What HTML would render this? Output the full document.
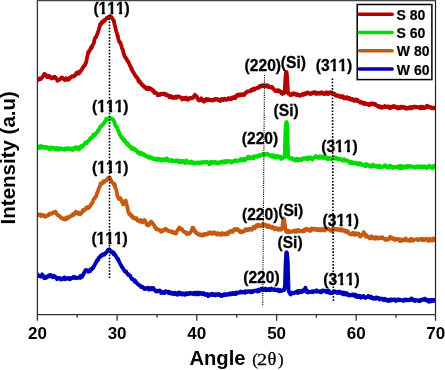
<!DOCTYPE html>
<html><head><meta charset="utf-8"><style>
html,body{margin:0;padding:0;background:#fff;width:445px;height:370px;overflow:hidden}
svg{display:block;will-change:transform}
.b{font-family:"Liberation Sans",sans-serif;font-weight:bold;fill:#000}
.s{font-family:"Liberation Serif",serif;fill:#000}
</style></head><body>
<svg width="445" height="370" viewBox="0 0 445 370">
<defs><clipPath id="cp"><rect x="37.6" y="0" width="397.9" height="314"/></clipPath><mask id="m1" maskUnits="userSpaceOnUse" x="0" y="0" width="445" height="370"><rect width="445" height="370" fill="#fff"/><g fill="#000"><rect x="99.04" y="11.51" width="2.73" height="4.09"/><rect x="104.82" y="11.51" width="2.44" height="4.09"/><rect x="107.72" y="11.51" width="2.73" height="4.09"/><rect x="113.49" y="11.51" width="2.44" height="4.09"/><rect x="116.39" y="11.51" width="2.73" height="4.09"/><rect x="122.16" y="11.51" width="2.44" height="4.09"/><rect x="330.12" y="68.11" width="2.73" height="4.09"/><rect x="335.89" y="68.11" width="2.44" height="4.09"/><rect x="338.79" y="68.11" width="2.73" height="4.09"/><rect x="344.56" y="68.11" width="2.44" height="4.09"/><rect x="97.74" y="109.51" width="2.73" height="4.09"/><rect x="103.52" y="109.51" width="2.44" height="4.09"/><rect x="106.42" y="109.51" width="2.73" height="4.09"/><rect x="112.19" y="109.51" width="2.44" height="4.09"/><rect x="115.09" y="109.51" width="2.73" height="4.09"/><rect x="120.86" y="109.51" width="2.44" height="4.09"/><rect x="335.52" y="149.01" width="2.73" height="4.09"/><rect x="341.29" y="149.01" width="2.44" height="4.09"/><rect x="344.19" y="149.01" width="2.73" height="4.09"/><rect x="349.96" y="149.01" width="2.44" height="4.09"/><rect x="97.74" y="170.81" width="2.73" height="4.09"/><rect x="103.52" y="170.81" width="2.44" height="4.09"/><rect x="106.42" y="170.81" width="2.73" height="4.09"/><rect x="112.19" y="170.81" width="2.44" height="4.09"/><rect x="115.09" y="170.81" width="2.73" height="4.09"/><rect x="120.86" y="170.81" width="2.44" height="4.09"/><rect x="336.92" y="223.11" width="2.73" height="4.09"/><rect x="342.69" y="223.11" width="2.44" height="4.09"/><rect x="345.59" y="223.11" width="2.73" height="4.09"/><rect x="351.36" y="223.11" width="2.44" height="4.09"/><rect x="97.04" y="240.91" width="2.73" height="4.09"/><rect x="102.82" y="240.91" width="2.44" height="4.09"/><rect x="105.72" y="240.91" width="2.73" height="4.09"/><rect x="111.49" y="240.91" width="2.44" height="4.09"/><rect x="114.39" y="240.91" width="2.73" height="4.09"/><rect x="120.16" y="240.91" width="2.44" height="4.09"/><rect x="337.52" y="282.71" width="2.73" height="4.09"/><rect x="343.29" y="282.71" width="2.44" height="4.09"/><rect x="346.19" y="282.71" width="2.73" height="4.09"/><rect x="351.96" y="282.71" width="2.44" height="4.09"/></g></mask></defs>
<g fill="none" stroke-width="3.8" stroke-linejoin="round" stroke-linecap="round" clip-path="url(#cp)">
<path d="M37.8,80.2 38.2,80.1 38.6,79.4 39.0,78.9 39.4,78.8 39.8,78.3 40.2,78.7 40.6,79.1 41.0,78.1 41.4,78.0 41.8,78.0 42.2,77.4 42.6,77.0 43.0,75.9 43.4,75.8 43.8,75.4 44.2,73.9 44.6,74.8 45.0,74.2 45.4,74.9 45.8,74.9 46.2,75.9 46.6,75.9 47.0,77.1 47.4,77.0 47.8,77.0 48.2,75.8 48.6,76.5 49.0,76.8 49.4,77.2 49.8,76.3 50.2,77.2 50.6,77.1 51.0,77.3 51.4,78.3 51.8,77.5 52.2,77.5 52.6,78.3 53.0,77.4 53.4,77.7 53.8,77.5 54.2,77.5 54.6,76.7 55.0,77.4 55.4,78.2 55.8,77.6 56.2,78.8 56.6,79.1 57.0,79.3 57.4,80.9 57.8,80.6 58.2,80.2 58.6,79.9 59.0,80.0 59.4,79.7 59.8,79.7 60.2,78.9 60.6,78.8 61.0,78.7 61.4,77.7 61.8,78.0 62.2,77.5 62.6,78.0 63.0,78.1 63.4,78.7 63.8,79.1 64.2,79.5 64.6,80.0 65.0,79.0 65.4,79.0 65.8,79.3 66.2,78.1 66.6,79.1 67.0,79.5 67.4,79.9 67.8,79.9 68.2,79.4 68.6,79.2 69.0,78.9 69.4,79.2 69.8,77.7 70.2,78.0 70.6,77.6 71.0,76.9 71.4,76.8 71.8,76.3 72.2,76.6 72.6,76.4 73.0,76.6 73.4,76.6 73.8,75.9 74.2,76.0 74.6,75.2 75.0,75.6 75.4,74.8 75.8,74.6 76.2,73.2 76.6,74.0 77.0,72.8 77.4,72.3 77.8,73.1 78.2,72.8 78.6,72.8 79.0,73.6 79.4,72.0 79.8,71.8 80.2,71.9 80.6,71.3 81.0,70.1 81.4,69.9 81.8,69.7 82.2,69.0 82.6,67.7 83.0,67.6 83.4,67.0 83.8,66.0 84.2,65.9 84.6,64.9 85.0,65.2 85.4,64.4 85.8,63.4 86.2,61.7 86.6,60.3 87.0,57.7 87.4,56.0 87.8,54.6 88.2,51.9 88.6,52.8 89.0,50.9 89.4,51.3 89.8,49.9 90.2,49.9 90.6,48.9 91.0,47.5 91.4,48.2 91.8,47.5 92.2,46.0 92.6,45.3 93.0,44.6 93.4,43.6 93.8,43.4 94.2,40.8 94.6,39.4 95.0,38.3 95.4,37.8 95.8,36.9 96.2,37.1 96.6,35.4 97.0,35.0 97.4,33.9 97.8,32.5 98.2,31.4 98.6,30.1 99.0,29.1 99.4,27.4 99.8,25.9 100.2,24.0 100.6,23.7 101.0,24.2 101.4,22.9 101.8,22.1 102.2,22.3 102.6,22.6 103.0,21.3 103.4,21.8 103.8,21.3 104.2,20.2 104.6,21.0 105.0,20.1 105.4,19.9 105.8,19.0 106.2,18.9 106.6,18.0 107.0,18.1 107.4,17.7 107.8,17.4 108.2,18.1 108.6,16.8 109.0,16.8 109.4,16.7 109.8,16.2 110.2,16.2 110.6,17.0 111.0,16.7 111.4,17.0 111.8,17.4 112.2,18.3 112.6,19.2 113.0,19.6 113.4,19.9 113.8,20.7 114.2,23.2 114.6,24.6 115.0,25.6 115.4,27.6 115.8,29.4 116.2,30.9 116.6,32.5 117.0,33.3 117.4,35.6 117.8,35.7 118.2,38.1 118.6,39.8 119.0,40.9 119.4,42.1 119.8,42.6 120.2,42.3 120.6,43.0 121.0,45.2 121.4,45.4 121.8,47.4 122.2,49.0 122.6,49.2 123.0,50.2 123.4,52.6 123.8,54.0 124.2,55.0 124.6,56.3 125.0,56.7 125.4,57.2 125.8,58.3 126.2,58.6 126.6,58.8 127.0,60.3 127.4,60.9 127.8,61.6 128.2,61.4 128.6,62.6 129.0,63.4 129.4,64.3 129.8,65.6 130.2,65.6 130.6,66.8 131.0,67.8 131.4,69.4 131.8,68.6 132.2,70.6 132.6,71.2 133.0,72.1 133.4,72.0 133.8,73.0 134.2,74.2 134.6,74.3 135.0,75.1 135.4,75.4 135.8,76.5 136.2,77.0 136.6,76.8 137.0,78.0 137.4,78.2 137.8,78.3 138.2,80.2 138.6,81.4 139.0,81.1 139.4,81.0 139.8,81.5 140.2,82.9 140.6,82.8 141.0,83.1 141.4,83.6 141.8,84.5 142.2,85.2 142.6,85.5 143.0,85.7 143.4,85.4 143.8,86.5 144.2,86.7 144.6,87.5 145.0,86.7 145.4,87.9 145.8,88.3 146.2,87.6 146.6,89.1 147.0,88.8 147.4,88.5 147.8,89.1 148.2,89.1 148.6,87.6 149.0,89.0 149.4,88.9 149.8,89.1 150.2,88.3 150.6,88.8 151.0,88.6 151.4,89.2 151.8,89.3 152.2,89.6 152.6,90.7 153.0,90.1 153.4,90.7 153.8,90.7 154.2,92.8 154.6,92.6 155.0,92.7 155.4,92.6 155.8,92.9 156.2,93.0 156.6,93.2 157.0,93.7 157.4,94.3 157.8,95.3 158.2,95.0 158.6,94.5 159.0,94.4 159.4,94.2 159.8,95.0 160.2,94.3 160.6,94.2 161.0,93.8 161.4,93.5 161.8,93.8 162.2,94.2 162.6,93.9 163.0,93.9 163.4,93.8 163.8,94.0 164.2,93.5 164.6,94.3 165.0,94.2 165.4,95.0 165.8,94.0 166.2,94.5 166.6,95.4 167.0,94.7 167.4,94.9 167.8,95.3 168.2,95.1 168.6,95.4 169.0,96.6 169.4,97.4 169.8,96.2 170.2,96.1 170.6,95.9 171.0,97.2 171.4,96.5 171.8,96.5 172.2,97.7 172.6,96.7 173.0,98.1 173.4,98.0 173.8,97.1 174.2,97.2 174.6,97.9 175.0,96.9 175.4,97.0 175.8,96.4 176.2,97.1 176.6,97.9 177.0,97.5 177.4,96.4 177.8,96.3 178.2,96.4 178.6,96.7 179.0,96.6 179.4,96.6 179.8,96.9 180.2,97.0 180.6,97.7 181.0,97.7 181.4,97.9 181.8,98.6 182.2,99.5 182.6,98.9 183.0,99.0 183.4,97.9 183.8,99.0 184.2,97.9 184.6,98.1 185.0,99.2 185.4,98.9 185.8,98.1 186.2,97.6 186.6,98.4 187.0,98.4 187.4,99.0 187.8,99.8 188.2,98.8 188.6,98.5 189.0,98.3 189.4,98.6 189.8,98.3 190.2,97.8 190.6,98.4 191.0,98.0 191.4,98.4 191.8,98.4 192.2,98.0 192.6,97.4 193.0,97.7 193.4,97.1 193.8,96.4 194.2,96.3 194.6,95.2 195.0,94.8 195.4,95.4 195.8,95.6 196.2,96.2 196.6,97.3 197.0,96.6 197.4,97.6 197.8,98.8 198.2,100.0 198.6,99.7 199.0,100.5 199.4,100.3 199.8,99.8 200.2,99.4 200.6,100.0 201.0,99.4 201.4,98.3 201.8,100.0 202.2,99.9 202.6,100.8 203.0,100.3 203.4,100.5 203.8,100.1 204.2,101.7 204.6,100.6 205.0,100.9 205.4,99.7 205.8,99.9 206.2,98.9 206.6,99.8 207.0,100.3 207.4,99.2 207.8,100.3 208.2,99.8 208.6,99.2 209.0,99.7 209.4,99.8 209.8,100.2 210.2,99.8 210.6,99.9 211.0,100.3 211.4,100.3 211.8,100.0 212.2,100.2 212.6,100.6 213.0,99.6 213.4,100.1 213.8,99.6 214.2,99.3 214.6,99.8 215.0,99.1 215.4,99.8 215.8,98.9 216.2,99.5 216.6,99.3 217.0,99.0 217.4,99.7 217.8,99.5 218.2,100.2 218.6,100.1 219.0,99.5 219.4,100.4 219.8,100.3 220.2,101.1 220.6,100.0 221.0,99.6 221.4,99.1 221.8,100.4 222.2,99.2 222.6,99.1 223.0,99.5 223.4,100.1 223.8,99.1 224.2,98.7 224.6,98.7 225.0,98.6 225.4,99.4 225.8,98.9 226.2,99.2 226.6,99.9 227.0,99.3 227.4,99.5 227.8,98.6 228.2,98.4 228.6,97.9 229.0,99.3 229.4,98.3 229.8,98.3 230.2,98.4 230.6,98.6 231.0,98.2 231.4,99.2 231.8,97.8 232.2,97.3 232.6,97.4 233.0,97.2 233.4,98.0 233.8,98.1 234.2,97.4 234.6,97.1 235.0,97.5 235.4,98.2 235.8,95.9 236.2,97.1 236.6,95.9 237.0,96.2 237.4,94.9 237.8,95.2 238.2,94.5 238.6,94.6 239.0,95.5 239.4,95.5 239.8,94.9 240.2,94.9 240.6,94.3 241.0,95.1 241.4,95.1 241.8,95.2 242.2,95.2 242.6,94.3 243.0,94.5 243.4,94.5 243.8,94.8 244.2,95.1 244.6,94.1 245.0,93.1 245.4,93.6 245.8,92.8 246.2,92.3 246.6,92.3 247.0,91.5 247.4,91.9 247.8,91.6 248.2,91.3 248.6,91.4 249.0,91.2 249.4,91.2 249.8,91.3 250.2,90.9 250.6,91.1 251.0,91.1 251.4,89.8 251.8,90.2 252.2,89.7 252.6,89.6 253.0,89.7 253.4,88.7 253.8,89.4 254.2,89.8 254.6,89.2 255.0,88.5 255.4,88.9 255.8,88.3 256.2,88.3 256.6,88.1 257.0,87.9 257.4,87.6 257.8,88.0 258.2,87.7 258.6,87.2 259.0,87.1 259.4,87.4 259.8,85.9 260.2,86.5 260.6,86.2 261.0,85.9 261.4,86.2 261.8,85.3 262.2,85.2 262.6,86.1 263.0,85.9 263.4,86.0 263.8,85.2 264.2,85.6 264.6,86.1 265.0,86.5 265.4,86.2 265.8,85.4 266.2,86.4 266.6,86.0 267.0,85.1 267.4,86.8 267.8,85.8 268.2,85.7 268.6,86.0 269.0,87.1 269.4,86.6 269.8,87.0 270.2,87.4 270.6,87.6 271.0,87.0 271.4,87.0 271.8,86.8 272.2,87.1 272.6,88.0 273.0,88.5 273.4,88.7 273.8,89.6 274.2,89.5 274.6,90.1 275.0,90.7 275.4,90.9 275.8,91.2 276.2,90.9 276.6,90.8 277.0,91.0 277.4,90.2 277.8,90.2 278.2,91.3 278.6,91.1 279.0,91.4 279.4,90.6 279.8,91.5 280.2,92.0 280.6,91.9 281.0,91.7 281.4,92.7 281.8,93.7 282.2,93.9 282.6,93.3 283.0,93.2 283.4,93.6 283.8,91.6 284.2,92.7 284.6,92.9 285.0,85.6 285.4,78.6 285.8,74.0 286.2,72.2 286.6,72.1 287.0,75.8 287.4,81.0 287.8,89.4 288.2,92.6 288.6,93.8 289.0,93.7 289.4,94.1 289.8,94.3 290.2,95.1 290.6,94.4 291.0,95.1 291.4,93.9 291.8,94.0 292.2,94.1 292.6,94.6 293.0,94.4 293.4,93.2 293.8,93.8 294.2,94.4 294.6,94.2 295.0,93.6 295.4,94.6 295.8,94.5 296.2,94.9 296.6,94.3 297.0,95.0 297.4,94.4 297.8,95.2 298.2,94.5 298.6,94.7 299.0,95.2 299.4,94.9 299.8,95.8 300.2,95.7 300.6,95.2 301.0,95.2 301.4,94.9 301.8,95.1 302.2,94.3 302.6,93.7 303.0,94.5 303.4,94.8 303.8,94.7 304.2,93.8 304.6,93.8 305.0,94.4 305.4,93.7 305.8,93.0 306.2,93.5 306.6,93.7 307.0,93.0 307.4,92.5 307.8,92.4 308.2,93.4 308.6,93.1 309.0,93.2 309.4,93.6 309.8,93.9 310.2,93.5 310.6,94.1 311.0,93.3 311.4,93.1 311.8,92.8 312.2,93.4 312.6,92.7 313.0,92.4 313.4,92.5 313.8,92.4 314.2,93.2 314.6,92.1 315.0,92.4 315.4,92.6 315.8,93.9 316.2,92.9 316.6,92.6 317.0,92.9 317.4,93.8 317.8,92.9 318.2,92.8 318.6,93.5 319.0,93.2 319.4,93.5 319.8,92.6 320.2,93.8 320.6,93.5 321.0,93.0 321.4,93.2 321.8,92.3 322.2,93.4 322.6,93.5 323.0,93.6 323.4,94.0 323.8,93.8 324.2,93.1 324.6,94.1 325.0,93.5 325.4,93.5 325.8,93.2 326.2,93.1 326.6,92.2 327.0,93.7 327.4,93.2 327.8,93.7 328.2,94.1 328.6,93.1 329.0,92.4 329.4,92.8 329.8,92.8 330.2,93.1 330.6,93.0 331.0,92.2 331.4,93.5 331.8,92.9 332.2,93.4 332.6,93.5 333.0,93.4 333.4,94.1 333.8,93.8 334.2,93.9 334.6,93.8 335.0,94.8 335.4,95.6 335.8,95.7 336.2,95.3 336.6,95.5 337.0,95.3 337.4,96.0 337.8,95.3 338.2,95.7 338.6,96.0 339.0,96.5 339.4,96.4 339.8,96.2 340.2,96.0 340.6,96.4 341.0,97.3 341.4,96.3 341.8,96.1 342.2,96.8 342.6,97.1 343.0,96.3 343.4,97.1 343.8,98.2 344.2,97.9 344.6,97.9 345.0,98.3 345.4,97.6 345.8,98.1 346.2,97.7 346.6,98.6 347.0,97.1 347.4,97.8 347.8,97.8 348.2,98.2 348.6,98.4 349.0,99.1 349.4,97.9 349.8,99.2 350.2,98.8 350.6,98.9 351.0,99.8 351.4,99.3 351.8,99.1 352.2,99.7 352.6,99.1 353.0,100.0 353.4,100.4 353.8,100.1 354.2,100.9 354.6,99.9 355.0,99.5 355.4,100.0 355.8,99.7 356.2,99.7 356.6,100.8 357.0,100.4 357.4,99.7 357.8,101.2 358.2,101.0 358.6,101.4 359.0,101.6 359.4,102.0 359.8,101.5 360.2,102.8 360.6,102.2 361.0,102.5 361.4,102.8 361.8,102.1 362.2,102.8 362.6,103.2 363.0,103.1 363.4,102.8 363.8,104.0 364.2,103.3 364.6,102.9 365.0,102.9 365.4,103.5 365.8,104.1 366.2,103.8 366.6,104.2 367.0,104.1 367.4,104.3 367.8,103.9 368.2,104.5 368.6,104.6 369.0,105.2 369.4,103.9 369.8,104.1 370.2,104.0 370.6,104.7 371.0,103.4 371.4,103.8 371.8,104.2 372.2,103.7 372.6,103.9 373.0,104.1 373.4,103.5 373.8,104.1 374.2,104.6 374.6,104.8 375.0,104.6 375.4,104.0 375.8,104.7 376.2,105.2 376.6,105.4 377.0,105.4 377.4,105.6 377.8,106.5 378.2,105.8 378.6,105.9 379.0,106.2 379.4,107.2 379.8,106.6 380.2,106.9 380.6,106.4 381.0,107.3 381.4,106.6 381.8,106.8 382.2,107.9 382.6,107.2 383.0,106.6 383.4,106.6 383.8,107.0 384.2,107.3 384.6,106.7 385.0,106.1 385.4,106.7 385.8,107.0 386.2,107.1 386.6,107.2 387.0,106.7 387.4,106.8 387.8,106.3 388.2,107.3 388.6,107.7 389.0,107.0 389.4,107.0 389.8,107.2 390.2,108.3 390.6,106.7 391.0,107.1 391.4,107.3 391.8,107.5 392.2,106.9 392.6,107.1 393.0,106.3 393.4,106.7 393.8,106.5 394.2,106.0 394.6,106.5 395.0,107.1 395.4,106.4 395.8,107.2 396.2,107.8 396.6,106.9 397.0,107.6 397.4,107.3 397.8,108.0 398.2,108.5 398.6,108.3 399.0,107.2 399.4,107.8 399.8,107.4 400.2,107.4 400.6,108.1 401.0,106.7 401.4,107.7 401.8,107.1 402.2,107.6 402.6,107.1 403.0,106.7 403.4,107.4 403.8,107.9 404.2,107.8 404.6,108.0 405.0,108.0 405.4,107.3 405.8,108.7 406.2,108.4 406.6,108.0 407.0,108.1 407.4,108.5 407.8,107.8 408.2,107.6 408.6,107.9 409.0,108.3 409.4,107.4 409.8,108.3 410.2,107.5 410.6,107.1 411.0,108.5 411.4,107.6 411.8,107.1 412.2,107.1 412.6,107.7 413.0,107.8 413.4,106.9 413.8,107.0 414.2,107.2 414.6,106.6 415.0,107.3 415.4,107.4 415.8,106.8 416.2,106.9 416.6,107.2 417.0,107.3 417.4,107.0 417.8,107.0 418.2,107.3 418.6,107.3 419.0,107.6 419.4,107.8 419.8,107.5 420.2,108.4 420.6,106.8 421.0,107.7 421.4,107.2 421.8,108.1 422.2,108.2 422.6,106.7 423.0,107.0 423.4,107.9 423.8,108.1 424.2,108.2 424.6,107.8 425.0,107.7 425.4,107.5 425.8,107.2 426.2,107.6 426.6,105.9 427.0,106.8 427.4,106.0 427.8,107.2 428.2,106.6 428.6,106.4 429.0,107.3 429.4,106.9 429.8,107.0 430.2,106.9 430.6,107.3 431.0,107.9 431.4,108.3 431.8,107.5 432.2,107.9 432.6,107.6 433.0,107.6 433.4,108.3 433.8,108.5 434.2,107.7 434.6,108.0 435.0,108.0" stroke="#b40000"/>
<path d="M37.8,146.7 38.2,147.0 38.6,146.6 39.0,147.0 39.4,147.2 39.8,148.2 40.2,146.9 40.6,145.9 41.0,146.5 41.4,146.8 41.8,146.3 42.2,146.5 42.6,147.2 43.0,147.6 43.4,147.2 43.8,147.0 44.2,147.9 44.6,147.7 45.0,147.6 45.4,147.1 45.8,147.4 46.2,148.2 46.6,147.1 47.0,147.7 47.4,148.1 47.8,147.9 48.2,148.0 48.6,147.7 49.0,149.0 49.4,149.2 49.8,148.6 50.2,147.4 50.6,147.8 51.0,148.5 51.4,148.7 51.8,148.1 52.2,148.3 52.6,147.6 53.0,148.3 53.4,147.9 53.8,148.5 54.2,148.0 54.6,149.2 55.0,149.4 55.4,148.5 55.8,148.5 56.2,149.5 56.6,149.0 57.0,147.9 57.4,149.4 57.8,149.2 58.2,148.9 58.6,149.8 59.0,149.1 59.4,148.6 59.8,148.9 60.2,148.3 60.6,148.4 61.0,148.6 61.4,148.5 61.8,148.5 62.2,149.3 62.6,149.2 63.0,149.1 63.4,149.1 63.8,149.3 64.2,149.5 64.6,148.9 65.0,149.8 65.4,148.4 65.8,149.1 66.2,148.2 66.6,148.7 67.0,149.1 67.4,149.3 67.8,148.2 68.2,148.8 68.6,148.2 69.0,148.7 69.4,148.5 69.8,149.0 70.2,148.4 70.6,149.5 71.0,149.3 71.4,149.1 71.8,148.6 72.2,148.4 72.6,150.0 73.0,148.6 73.4,149.6 73.8,148.9 74.2,148.4 74.6,147.8 75.0,148.6 75.4,148.5 75.8,147.1 76.2,147.5 76.6,148.3 77.0,147.9 77.4,149.0 77.8,147.8 78.2,148.8 78.6,148.1 79.0,149.6 79.4,148.0 79.8,146.9 80.2,147.3 80.6,147.1 81.0,147.6 81.4,145.9 81.8,146.0 82.2,146.1 82.6,146.8 83.0,145.5 83.4,145.7 83.8,144.7 84.2,144.3 84.6,143.8 85.0,143.3 85.4,142.6 85.8,143.7 86.2,142.2 86.6,143.2 87.0,142.8 87.4,142.0 87.8,141.2 88.2,140.8 88.6,140.8 89.0,140.6 89.4,139.9 89.8,139.6 90.2,138.5 90.6,138.7 91.0,137.7 91.4,138.1 91.8,137.6 92.2,137.0 92.6,137.3 93.0,136.5 93.4,134.5 93.8,135.5 94.2,134.7 94.6,135.1 95.0,135.3 95.4,133.6 95.8,133.5 96.2,133.2 96.6,132.8 97.0,132.7 97.4,132.3 97.8,130.7 98.2,131.5 98.6,129.9 99.0,129.5 99.4,129.1 99.8,128.0 100.2,126.9 100.6,126.5 101.0,126.0 101.4,125.9 101.8,126.1 102.2,124.6 102.6,124.8 103.0,124.3 103.4,123.9 103.8,123.2 104.2,123.1 104.6,122.1 105.0,121.5 105.4,120.8 105.8,120.9 106.2,118.6 106.6,119.8 107.0,118.8 107.4,118.8 107.8,118.8 108.2,118.6 108.6,119.0 109.0,118.7 109.4,118.9 109.8,117.7 110.2,119.0 110.6,118.6 111.0,118.3 111.4,118.6 111.8,118.8 112.2,118.7 112.6,119.3 113.0,119.5 113.4,119.9 113.8,120.4 114.2,121.9 114.6,122.8 115.0,124.4 115.4,126.0 115.8,126.2 116.2,126.5 116.6,126.6 117.0,127.4 117.4,128.0 117.8,130.0 118.2,130.3 118.6,131.8 119.0,132.3 119.4,133.6 119.8,134.9 120.2,134.9 120.6,135.5 121.0,136.1 121.4,137.9 121.8,137.8 122.2,138.0 122.6,138.1 123.0,138.2 123.4,139.7 123.8,141.0 124.2,139.4 124.6,141.0 125.0,141.5 125.4,141.2 125.8,142.4 126.2,142.7 126.6,143.0 127.0,144.6 127.4,143.0 127.8,144.3 128.2,144.9 128.6,144.7 129.0,145.6 129.4,146.4 129.8,146.4 130.2,147.0 130.6,147.6 131.0,146.7 131.4,148.6 131.8,149.1 132.2,148.7 132.6,148.9 133.0,148.1 133.4,148.7 133.8,148.3 134.2,148.7 134.6,150.0 135.0,149.5 135.4,150.1 135.8,149.8 136.2,150.8 136.6,151.3 137.0,151.1 137.4,151.3 137.8,152.8 138.2,152.0 138.6,152.1 139.0,152.3 139.4,153.4 139.8,154.0 140.2,153.3 140.6,152.6 141.0,152.7 141.4,153.6 141.8,153.0 142.2,154.4 142.6,154.6 143.0,153.9 143.4,154.5 143.8,154.9 144.2,155.5 144.6,154.5 145.0,155.8 145.4,155.4 145.8,155.9 146.2,156.6 146.6,156.5 147.0,156.3 147.4,156.2 147.8,156.3 148.2,157.4 148.6,157.7 149.0,157.2 149.4,157.6 149.8,156.7 150.2,157.4 150.6,157.8 151.0,157.4 151.4,157.7 151.8,158.5 152.2,158.5 152.6,158.1 153.0,158.6 153.4,158.5 153.8,159.3 154.2,159.1 154.6,158.6 155.0,159.0 155.4,159.1 155.8,159.3 156.2,159.3 156.6,160.0 157.0,159.7 157.4,160.0 157.8,158.4 158.2,159.1 158.6,158.8 159.0,159.2 159.4,159.1 159.8,159.2 160.2,159.9 160.6,159.8 161.0,159.2 161.4,160.8 161.8,160.5 162.2,159.7 162.6,160.3 163.0,159.5 163.4,160.3 163.8,159.6 164.2,159.2 164.6,159.4 165.0,159.1 165.4,159.6 165.8,160.1 166.2,160.1 166.6,159.9 167.0,158.4 167.4,160.0 167.8,159.2 168.2,160.4 168.6,160.8 169.0,160.3 169.4,160.2 169.8,160.3 170.2,160.4 170.6,160.3 171.0,160.1 171.4,159.9 171.8,161.0 172.2,160.5 172.6,160.9 173.0,160.4 173.4,160.5 173.8,160.6 174.2,160.8 174.6,161.0 175.0,160.9 175.4,160.4 175.8,160.4 176.2,161.4 176.6,160.5 177.0,160.5 177.4,161.2 177.8,161.1 178.2,161.1 178.6,160.5 179.0,162.2 179.4,161.3 179.8,161.5 180.2,161.5 180.6,161.0 181.0,160.9 181.4,162.3 181.8,161.9 182.2,161.6 182.6,161.3 183.0,160.9 183.4,161.4 183.8,161.1 184.2,162.2 184.6,162.4 185.0,163.1 185.4,162.3 185.8,161.8 186.2,161.5 186.6,160.4 187.0,161.4 187.4,161.8 187.8,162.5 188.2,162.5 188.6,162.5 189.0,162.6 189.4,162.7 189.8,163.0 190.2,161.9 190.6,162.0 191.0,161.5 191.4,162.7 191.8,162.7 192.2,163.0 192.6,162.2 193.0,162.8 193.4,162.7 193.8,163.1 194.2,163.2 194.6,163.3 195.0,162.6 195.4,163.3 195.8,162.8 196.2,162.8 196.6,162.6 197.0,162.5 197.4,163.1 197.8,162.8 198.2,163.0 198.6,163.0 199.0,162.3 199.4,163.6 199.8,162.6 200.2,163.4 200.6,163.1 201.0,162.3 201.4,162.2 201.8,162.6 202.2,162.1 202.6,162.1 203.0,162.7 203.4,162.1 203.8,162.0 204.2,162.2 204.6,162.2 205.0,162.0 205.4,162.1 205.8,162.4 206.2,162.2 206.6,162.4 207.0,161.8 207.4,162.7 207.8,162.7 208.2,162.5 208.6,162.5 209.0,163.2 209.4,164.2 209.8,163.0 210.2,163.2 210.6,163.2 211.0,161.7 211.4,163.2 211.8,162.6 212.2,163.1 212.6,162.3 213.0,161.9 213.4,162.6 213.8,162.5 214.2,162.0 214.6,162.4 215.0,161.8 215.4,162.2 215.8,162.8 216.2,163.3 216.6,162.9 217.0,162.4 217.4,162.8 217.8,163.1 218.2,163.5 218.6,162.8 219.0,162.2 219.4,162.5 219.8,162.8 220.2,162.7 220.6,162.3 221.0,161.8 221.4,161.8 221.8,162.4 222.2,161.4 222.6,162.0 223.0,162.2 223.4,161.5 223.8,162.3 224.2,162.2 224.6,161.6 225.0,162.5 225.4,162.7 225.8,160.9 226.2,161.9 226.6,161.8 227.0,161.7 227.4,161.8 227.8,161.0 228.2,161.3 228.6,161.3 229.0,161.3 229.4,161.6 229.8,161.2 230.2,161.5 230.6,162.3 231.0,162.1 231.4,162.4 231.8,161.3 232.2,161.6 232.6,161.8 233.0,161.9 233.4,161.5 233.8,161.6 234.2,160.7 234.6,160.7 235.0,160.9 235.4,161.1 235.8,160.3 236.2,161.1 236.6,160.9 237.0,161.1 237.4,161.0 237.8,161.0 238.2,160.9 238.6,160.7 239.0,160.1 239.4,160.1 239.8,159.8 240.2,160.2 240.6,159.7 241.0,158.9 241.4,160.5 241.8,160.0 242.2,159.6 242.6,160.0 243.0,159.6 243.4,160.5 243.8,159.7 244.2,158.7 244.6,159.5 245.0,159.2 245.4,160.3 245.8,158.7 246.2,158.2 246.6,158.8 247.0,158.5 247.4,158.3 247.8,157.0 248.2,157.8 248.6,158.4 249.0,156.7 249.4,158.2 249.8,157.2 250.2,158.6 250.6,157.8 251.0,157.3 251.4,158.0 251.8,157.8 252.2,157.3 252.6,158.0 253.0,157.0 253.4,156.6 253.8,158.3 254.2,156.7 254.6,156.6 255.0,157.0 255.4,156.3 255.8,156.2 256.2,156.4 256.6,156.0 257.0,156.5 257.4,156.9 257.8,156.0 258.2,156.0 258.6,156.0 259.0,155.3 259.4,156.1 259.8,155.2 260.2,155.9 260.6,155.5 261.0,155.4 261.4,154.7 261.8,154.9 262.2,154.4 262.6,155.1 263.0,154.5 263.4,154.0 263.8,154.6 264.2,154.7 264.6,154.3 265.0,155.1 265.4,154.2 265.8,154.1 266.2,154.3 266.6,153.8 267.0,153.6 267.4,153.6 267.8,154.5 268.2,154.8 268.6,154.5 269.0,155.4 269.4,154.9 269.8,155.2 270.2,155.5 270.6,155.4 271.0,156.5 271.4,155.6 271.8,155.2 272.2,156.5 272.6,156.0 273.0,156.3 273.4,155.1 273.8,157.0 274.2,157.0 274.6,157.0 275.0,157.0 275.4,157.4 275.8,156.5 276.2,157.1 276.6,156.0 277.0,156.1 277.4,157.1 277.8,157.0 278.2,156.1 278.6,157.1 279.0,157.0 279.4,157.0 279.8,157.8 280.2,157.1 280.6,156.7 281.0,157.6 281.4,159.0 281.8,157.3 282.2,158.1 282.6,158.1 283.0,158.0 283.4,157.2 283.8,157.1 284.2,156.9 284.6,157.2 285.0,145.8 285.4,131.1 285.8,124.8 286.2,122.4 286.6,121.9 287.0,123.6 287.4,127.4 287.8,144.2 288.2,157.3 288.6,156.8 289.0,157.8 289.4,158.0 289.8,158.0 290.2,158.8 290.6,158.6 291.0,158.2 291.4,158.7 291.8,158.1 292.2,158.7 292.6,158.8 293.0,159.0 293.4,159.7 293.8,159.1 294.2,159.2 294.6,159.7 295.0,159.7 295.4,160.6 295.8,160.0 296.2,159.0 296.6,159.7 297.0,158.6 297.4,158.6 297.8,160.6 298.2,159.5 298.6,159.6 299.0,159.7 299.4,160.0 299.8,159.6 300.2,160.0 300.6,159.1 301.0,158.8 301.4,160.2 301.8,159.7 302.2,159.4 302.6,159.1 303.0,158.8 303.4,158.2 303.8,158.8 304.2,158.2 304.6,158.6 305.0,158.5 305.4,158.7 305.8,158.2 306.2,158.5 306.6,157.7 307.0,158.8 307.4,159.4 307.8,157.7 308.2,158.1 308.6,158.9 309.0,158.5 309.4,158.7 309.8,157.3 310.2,158.4 310.6,157.7 311.0,157.5 311.4,157.9 311.8,157.8 312.2,158.4 312.6,159.7 313.0,158.5 313.4,158.4 313.8,157.8 314.2,157.8 314.6,157.3 315.0,157.2 315.4,156.2 315.8,156.3 316.2,156.5 316.6,156.6 317.0,156.5 317.4,156.6 317.8,157.6 318.2,157.6 318.6,158.0 319.0,157.7 319.4,156.9 319.8,157.4 320.2,156.3 320.6,157.9 321.0,157.8 321.4,157.4 321.8,157.3 322.2,157.7 322.6,156.5 323.0,157.2 323.4,158.0 323.8,157.5 324.2,157.0 324.6,157.8 325.0,156.9 325.4,157.8 325.8,157.4 326.2,157.3 326.6,158.3 327.0,157.9 327.4,159.2 327.8,158.1 328.2,159.0 328.6,157.7 329.0,158.6 329.4,157.7 329.8,157.9 330.2,158.5 330.6,159.0 331.0,158.4 331.4,159.4 331.8,158.3 332.2,158.3 332.6,158.3 333.0,158.2 333.4,157.2 333.8,158.5 334.2,158.3 334.6,157.8 335.0,158.0 335.4,157.4 335.8,157.7 336.2,158.8 336.6,158.6 337.0,158.2 337.4,158.7 337.8,159.2 338.2,158.8 338.6,158.9 339.0,159.5 339.4,159.4 339.8,159.2 340.2,158.9 340.6,159.0 341.0,159.1 341.4,159.8 341.8,159.9 342.2,160.3 342.6,160.7 343.0,160.5 343.4,160.4 343.8,160.1 344.2,159.2 344.6,160.4 345.0,160.3 345.4,160.3 345.8,160.7 346.2,160.2 346.6,160.3 347.0,160.8 347.4,161.0 347.8,160.6 348.2,161.1 348.6,161.3 349.0,161.6 349.4,162.2 349.8,163.1 350.2,161.9 350.6,162.7 351.0,163.1 351.4,162.8 351.8,161.7 352.2,163.0 352.6,162.5 353.0,162.4 353.4,162.7 353.8,163.3 354.2,162.9 354.6,162.7 355.0,163.4 355.4,162.7 355.8,162.7 356.2,163.4 356.6,163.3 357.0,164.1 357.4,163.2 357.8,164.2 358.2,163.7 358.6,164.5 359.0,163.2 359.4,163.7 359.8,163.6 360.2,163.0 360.6,163.6 361.0,164.7 361.4,164.1 361.8,164.3 362.2,165.2 362.6,165.2 363.0,165.2 363.4,164.7 363.8,165.1 364.2,165.7 364.6,164.7 365.0,164.5 365.4,165.6 365.8,166.2 366.2,164.8 366.6,164.1 367.0,164.6 367.4,165.0 367.8,165.5 368.2,165.8 368.6,165.5 369.0,165.2 369.4,165.9 369.8,165.5 370.2,165.8 370.6,165.5 371.0,166.9 371.4,166.3 371.8,165.6 372.2,165.1 372.6,165.1 373.0,164.5 373.4,165.2 373.8,165.3 374.2,166.2 374.6,165.5 375.0,165.6 375.4,165.6 375.8,165.8 376.2,166.2 376.6,166.4 377.0,166.9 377.4,166.4 377.8,167.1 378.2,166.6 378.6,166.4 379.0,165.5 379.4,165.7 379.8,166.9 380.2,167.3 380.6,167.0 381.0,167.2 381.4,166.9 381.8,166.9 382.2,166.7 382.6,167.1 383.0,166.8 383.4,166.3 383.8,166.0 384.2,166.3 384.6,166.0 385.0,165.2 385.4,166.6 385.8,165.8 386.2,165.9 386.6,167.0 387.0,167.2 387.4,166.8 387.8,167.5 388.2,166.7 388.6,166.9 389.0,166.3 389.4,167.5 389.8,165.8 390.2,167.0 390.6,166.2 391.0,166.0 391.4,166.4 391.8,166.7 392.2,167.3 392.6,168.0 393.0,167.6 393.4,167.7 393.8,167.1 394.2,167.7 394.6,167.3 395.0,166.8 395.4,167.1 395.8,166.9 396.2,166.9 396.6,167.1 397.0,167.0 397.4,166.9 397.8,167.9 398.2,166.5 398.6,166.9 399.0,167.9 399.4,165.9 399.8,166.9 400.2,167.3 400.6,166.3 401.0,168.2 401.4,165.9 401.8,167.9 402.2,168.1 402.6,167.5 403.0,167.0 403.4,167.0 403.8,166.4 404.2,167.6 404.6,166.6 405.0,166.9 405.4,167.3 405.8,166.5 406.2,166.6 406.6,167.1 407.0,166.0 407.4,167.2 407.8,166.7 408.2,166.0 408.6,166.9 409.0,166.6 409.4,166.3 409.8,166.7 410.2,166.1 410.6,166.8 411.0,166.3 411.4,166.7 411.8,166.6 412.2,167.1 412.6,166.7 413.0,167.0 413.4,166.7 413.8,167.3 414.2,167.5 414.6,167.9 415.0,167.8 415.4,166.9 415.8,166.6 416.2,166.8 416.6,166.5 417.0,167.0 417.4,167.1 417.8,166.1 418.2,166.4 418.6,167.1 419.0,167.0 419.4,166.5 419.8,167.5 420.2,166.8 420.6,166.8 421.0,166.6 421.4,166.2 421.8,167.2 422.2,166.6 422.6,167.0 423.0,166.6 423.4,167.4 423.8,167.0 424.2,167.0 424.6,166.4 425.0,167.3 425.4,166.6 425.8,167.4 426.2,167.0 426.6,167.0 427.0,168.0 427.4,167.1 427.8,166.7 428.2,166.2 428.6,166.2 429.0,166.9 429.4,166.8 429.8,165.7 430.2,167.1 430.6,167.1 431.0,167.5 431.4,167.0 431.8,166.7 432.2,167.0 432.6,168.3 433.0,167.2 433.4,166.3 433.8,167.2 434.2,167.0 434.6,166.1 435.0,165.7" stroke="#00dc00"/>
<path d="M37.8,214.3 38.2,215.1 38.6,214.8 39.0,214.9 39.4,215.3 39.8,215.0 40.2,214.5 40.6,215.0 41.0,216.0 41.4,214.7 41.8,215.0 42.2,215.8 42.6,215.3 43.0,215.1 43.4,215.1 43.8,216.1 44.2,216.3 44.6,216.6 45.0,216.2 45.4,216.9 45.8,215.7 46.2,216.2 46.6,215.7 47.0,215.7 47.4,215.8 47.8,215.7 48.2,214.6 48.6,215.4 49.0,214.2 49.4,213.7 49.8,214.2 50.2,213.4 50.6,213.8 51.0,213.8 51.4,213.4 51.8,213.6 52.2,213.0 52.6,213.1 53.0,212.5 53.4,212.8 53.8,212.2 54.2,212.1 54.6,212.1 55.0,212.2 55.4,211.7 55.8,211.9 56.2,213.1 56.6,214.0 57.0,214.2 57.4,214.8 57.8,215.2 58.2,215.5 58.6,215.6 59.0,215.4 59.4,215.7 59.8,216.4 60.2,216.9 60.6,217.5 61.0,217.3 61.4,217.6 61.8,218.4 62.2,218.2 62.6,218.7 63.0,219.0 63.4,218.7 63.8,218.5 64.2,219.3 64.6,219.1 65.0,218.7 65.4,218.5 65.8,219.5 66.2,217.7 66.6,217.9 67.0,218.0 67.4,217.2 67.8,217.8 68.2,218.2 68.6,217.8 69.0,217.3 69.4,217.1 69.8,216.4 70.2,216.5 70.6,216.0 71.0,215.7 71.4,215.4 71.8,215.8 72.2,215.6 72.6,215.6 73.0,214.0 73.4,215.0 73.8,214.8 74.2,214.3 74.6,213.3 75.0,212.7 75.4,212.8 75.8,211.8 76.2,212.6 76.6,212.6 77.0,213.3 77.4,213.6 77.8,212.4 78.2,214.0 78.6,213.7 79.0,213.6 79.4,213.9 79.8,213.7 80.2,214.2 80.6,212.6 81.0,213.2 81.4,213.4 81.8,212.5 82.2,211.8 82.6,211.1 83.0,210.0 83.4,210.3 83.8,210.0 84.2,210.0 84.6,210.5 85.0,209.3 85.4,209.3 85.8,209.3 86.2,207.5 86.6,207.6 87.0,207.5 87.4,207.3 87.8,208.0 88.2,207.0 88.6,208.0 89.0,207.6 89.4,207.1 89.8,206.5 90.2,206.2 90.6,205.5 91.0,204.1 91.4,204.1 91.8,203.7 92.2,202.5 92.6,202.3 93.0,201.6 93.4,199.7 93.8,199.7 94.2,198.5 94.6,198.5 95.0,197.4 95.4,197.6 95.8,196.7 96.2,196.4 96.6,194.6 97.0,192.7 97.4,193.2 97.8,191.3 98.2,190.6 98.6,188.9 99.0,188.0 99.4,187.7 99.8,186.3 100.2,185.7 100.6,183.5 101.0,184.3 101.4,183.5 101.8,183.6 102.2,183.0 102.6,183.0 103.0,183.0 103.4,181.3 103.8,181.8 104.2,181.2 104.6,181.7 105.0,181.0 105.4,181.1 105.8,180.8 106.2,180.7 106.6,180.1 107.0,179.3 107.4,179.3 107.8,178.2 108.2,178.7 108.6,178.6 109.0,177.6 109.4,178.5 109.8,177.6 110.2,178.2 110.6,179.2 111.0,180.1 111.4,181.1 111.8,181.8 112.2,182.3 112.6,183.0 113.0,183.1 113.4,183.1 113.8,183.8 114.2,185.6 114.6,183.9 115.0,185.7 115.4,187.8 115.8,188.7 116.2,189.5 116.6,191.7 117.0,193.9 117.4,196.0 117.8,196.3 118.2,197.7 118.6,198.0 119.0,199.1 119.4,199.2 119.8,198.3 120.2,197.9 120.6,198.9 121.0,199.4 121.4,199.5 121.8,200.4 122.2,202.6 122.6,202.2 123.0,204.5 123.4,204.0 123.8,203.9 124.2,203.6 124.6,203.7 125.0,202.1 125.4,201.9 125.8,200.5 126.2,202.9 126.6,203.9 127.0,206.0 127.4,207.2 127.8,209.1 128.2,211.6 128.6,212.6 129.0,213.5 129.4,214.2 129.8,214.1 130.2,213.8 130.6,215.4 131.0,215.5 131.4,216.5 131.8,215.5 132.2,216.0 132.6,216.3 133.0,217.0 133.4,218.3 133.8,218.1 134.2,217.8 134.6,217.9 135.0,218.6 135.4,218.4 135.8,219.0 136.2,218.8 136.6,218.2 137.0,219.2 137.4,220.5 137.8,220.0 138.2,220.3 138.6,220.5 139.0,220.8 139.4,221.5 139.8,221.1 140.2,220.7 140.6,219.9 141.0,221.4 141.4,221.0 141.8,221.5 142.2,222.4 142.6,222.2 143.0,220.6 143.4,221.5 143.8,221.0 144.2,220.1 144.6,220.6 145.0,220.3 145.4,221.2 145.8,222.1 146.2,222.8 146.6,224.6 147.0,224.4 147.4,225.0 147.8,224.8 148.2,225.5 148.6,224.8 149.0,225.0 149.4,223.7 149.8,223.0 150.2,223.0 150.6,222.9 151.0,221.5 151.4,221.8 151.8,223.0 152.2,222.5 152.6,223.3 153.0,224.4 153.4,224.3 153.8,225.0 154.2,225.3 154.6,226.6 155.0,227.5 155.4,228.2 155.8,228.6 156.2,229.3 156.6,229.4 157.0,228.5 157.4,229.4 157.8,229.6 158.2,229.7 158.6,229.7 159.0,229.8 159.4,230.2 159.8,229.9 160.2,231.0 160.6,231.2 161.0,231.8 161.4,230.9 161.8,230.9 162.2,230.4 162.6,230.3 163.0,230.9 163.4,229.9 163.8,230.5 164.2,229.6 164.6,229.9 165.0,228.9 165.4,229.1 165.8,228.9 166.2,229.3 166.6,229.2 167.0,229.5 167.4,230.4 167.8,230.5 168.2,230.7 168.6,231.2 169.0,231.1 169.4,231.1 169.8,231.5 170.2,231.0 170.6,231.4 171.0,232.1 171.4,231.9 171.8,231.5 172.2,231.4 172.6,231.8 173.0,232.2 173.4,233.0 173.8,232.3 174.2,232.5 174.6,233.2 175.0,232.5 175.4,232.8 175.8,233.6 176.2,233.3 176.6,232.1 177.0,231.2 177.4,230.1 177.8,230.1 178.2,229.2 178.6,228.7 179.0,227.9 179.4,227.4 179.8,227.7 180.2,228.4 180.6,229.3 181.0,229.4 181.4,228.7 181.8,229.3 182.2,229.4 182.6,230.1 183.0,230.9 183.4,231.6 183.8,231.6 184.2,232.0 184.6,231.6 185.0,231.8 185.4,232.2 185.8,232.6 186.2,233.6 186.6,232.6 187.0,234.1 187.4,234.2 187.8,233.4 188.2,233.5 188.6,233.2 189.0,233.5 189.4,233.6 189.8,233.0 190.2,232.7 190.6,232.2 191.0,231.3 191.4,230.5 191.8,229.6 192.2,229.1 192.6,227.6 193.0,227.7 193.4,228.4 193.8,228.7 194.2,230.9 194.6,230.0 195.0,230.9 195.4,232.2 195.8,232.3 196.2,233.1 196.6,232.6 197.0,233.0 197.4,233.6 197.8,233.9 198.2,234.5 198.6,234.5 199.0,234.9 199.4,234.8 199.8,234.2 200.2,235.0 200.6,234.4 201.0,234.3 201.4,235.2 201.8,235.0 202.2,235.1 202.6,235.7 203.0,235.6 203.4,234.4 203.8,234.9 204.2,234.0 204.6,234.5 205.0,233.9 205.4,234.9 205.8,234.6 206.2,233.9 206.6,234.2 207.0,233.9 207.4,234.4 207.8,234.2 208.2,233.8 208.6,232.8 209.0,233.1 209.4,233.6 209.8,233.3 210.2,233.4 210.6,232.2 211.0,233.1 211.4,232.8 211.8,233.8 212.2,233.7 212.6,233.7 213.0,233.4 213.4,233.7 213.8,232.8 214.2,232.2 214.6,233.2 215.0,233.3 215.4,232.8 215.8,233.1 216.2,233.7 216.6,234.5 217.0,234.6 217.4,234.2 217.8,233.1 218.2,233.7 218.6,233.8 219.0,234.1 219.4,234.2 219.8,233.9 220.2,234.9 220.6,234.3 221.0,233.8 221.4,233.3 221.8,234.7 222.2,233.3 222.6,233.8 223.0,234.3 223.4,233.4 223.8,233.9 224.2,233.7 224.6,234.0 225.0,233.8 225.4,234.6 225.8,233.7 226.2,233.2 226.6,233.7 227.0,233.0 227.4,232.8 227.8,234.2 228.2,232.5 228.6,232.4 229.0,232.6 229.4,231.7 229.8,231.3 230.2,232.2 230.6,231.2 231.0,231.6 231.4,231.5 231.8,230.9 232.2,230.6 232.6,230.8 233.0,231.9 233.4,230.8 233.8,230.5 234.2,229.2 234.6,230.0 235.0,228.9 235.4,229.8 235.8,229.5 236.2,229.6 236.6,229.7 237.0,229.5 237.4,229.1 237.8,230.4 238.2,229.8 238.6,230.0 239.0,230.8 239.4,230.6 239.8,231.7 240.2,232.2 240.6,231.9 241.0,232.0 241.4,231.9 241.8,232.3 242.2,231.3 242.6,231.7 243.0,231.2 243.4,231.2 243.8,231.5 244.2,231.2 244.6,230.8 245.0,230.6 245.4,229.3 245.8,229.8 246.2,230.4 246.6,229.8 247.0,230.0 247.4,230.0 247.8,229.1 248.2,228.9 248.6,230.0 249.0,229.9 249.4,229.0 249.8,229.3 250.2,229.4 250.6,228.7 251.0,228.9 251.4,229.4 251.8,229.8 252.2,228.5 252.6,228.9 253.0,227.9 253.4,227.4 253.8,226.8 254.2,228.1 254.6,227.2 255.0,228.2 255.4,227.1 255.8,226.5 256.2,225.5 256.6,226.7 257.0,225.7 257.4,225.7 257.8,224.6 258.2,226.1 258.6,225.9 259.0,224.9 259.4,225.2 259.8,225.5 260.2,225.9 260.6,225.6 261.0,226.3 261.4,225.2 261.8,225.0 262.2,225.1 262.6,223.9 263.0,224.6 263.4,225.4 263.8,225.0 264.2,224.5 264.6,225.5 265.0,224.5 265.4,225.4 265.8,225.9 266.2,225.8 266.6,225.1 267.0,226.3 267.4,227.0 267.8,226.0 268.2,226.6 268.6,225.4 269.0,225.7 269.4,227.2 269.8,226.6 270.2,226.6 270.6,226.4 271.0,226.7 271.4,227.3 271.8,227.9 272.2,226.8 272.6,226.7 273.0,228.1 273.4,227.7 273.8,228.0 274.2,228.2 274.6,229.2 275.0,228.9 275.4,228.8 275.8,227.9 276.2,229.0 276.6,228.5 277.0,228.9 277.4,229.3 277.8,228.6 278.2,229.9 278.6,228.7 279.0,228.8 279.4,229.5 279.8,228.7 280.2,229.4 280.6,229.6 281.0,229.0 281.4,229.7 281.8,228.8 282.2,228.9 282.6,224.7 283.0,221.1 283.4,218.5 283.8,218.8 284.2,219.5 284.6,222.5 285.0,224.8 285.4,229.1 285.8,229.7 286.2,231.8 286.6,231.6 287.0,231.8 287.4,231.5 287.8,232.2 288.2,231.6 288.6,232.2 289.0,230.8 289.4,232.1 289.8,231.5 290.2,231.5 290.6,232.0 291.0,231.5 291.4,231.6 291.8,231.7 292.2,231.7 292.6,231.5 293.0,231.4 293.4,230.8 293.8,231.4 294.2,231.3 294.6,231.2 295.0,231.9 295.4,230.4 295.8,231.0 296.2,231.9 296.6,230.8 297.0,230.2 297.4,231.5 297.8,231.0 298.2,230.0 298.6,231.0 299.0,230.5 299.4,230.5 299.8,231.2 300.2,230.9 300.6,230.8 301.0,231.3 301.4,230.9 301.8,231.1 302.2,230.9 302.6,231.4 303.0,230.8 303.4,230.2 303.8,230.0 304.2,230.3 304.6,231.1 305.0,230.6 305.4,229.2 305.8,229.9 306.2,228.7 306.6,229.7 307.0,229.1 307.4,229.7 307.8,230.0 308.2,229.9 308.6,230.0 309.0,229.4 309.4,229.7 309.8,230.2 310.2,231.1 310.6,229.3 311.0,228.9 311.4,228.6 311.8,229.7 312.2,228.6 312.6,228.8 313.0,229.6 313.4,228.6 313.8,229.8 314.2,229.7 314.6,229.0 315.0,229.1 315.4,228.7 315.8,228.9 316.2,229.9 316.6,230.1 317.0,229.7 317.4,229.5 317.8,229.3 318.2,229.9 318.6,228.9 319.0,229.8 319.4,230.4 319.8,230.3 320.2,229.8 320.6,229.6 321.0,230.5 321.4,230.6 321.8,228.8 322.2,229.2 322.6,229.6 323.0,230.0 323.4,229.3 323.8,229.8 324.2,229.5 324.6,230.6 325.0,229.8 325.4,229.5 325.8,229.1 326.2,229.3 326.6,229.4 327.0,228.5 327.4,229.4 327.8,228.7 328.2,229.3 328.6,229.3 329.0,229.4 329.4,229.9 329.8,229.8 330.2,230.4 330.6,230.8 331.0,229.9 331.4,229.6 331.8,230.6 332.2,228.9 332.6,228.9 333.0,230.2 333.4,229.8 333.8,229.8 334.2,229.3 334.6,228.7 335.0,229.2 335.4,229.6 335.8,228.9 336.2,228.9 336.6,228.8 337.0,228.8 337.4,229.9 337.8,229.9 338.2,229.2 338.6,229.3 339.0,230.0 339.4,230.3 339.8,229.6 340.2,230.2 340.6,229.1 341.0,229.7 341.4,230.5 341.8,230.3 342.2,229.6 342.6,229.8 343.0,230.5 343.4,230.1 343.8,230.2 344.2,230.9 344.6,231.0 345.0,231.5 345.4,231.7 345.8,231.1 346.2,231.5 346.6,231.5 347.0,230.9 347.4,231.5 347.8,232.6 348.2,231.7 348.6,233.3 349.0,233.3 349.4,233.4 349.8,234.1 350.2,234.1 350.6,234.4 351.0,233.6 351.4,233.6 351.8,233.4 352.2,234.2 352.6,233.7 353.0,232.8 353.4,233.1 353.8,233.0 354.2,233.5 354.6,233.8 355.0,235.0 355.4,233.2 355.8,234.7 356.2,234.2 356.6,233.5 357.0,233.5 357.4,233.6 357.8,233.6 358.2,234.3 358.6,233.4 359.0,235.0 359.4,234.9 359.8,236.4 360.2,235.8 360.6,236.6 361.0,236.1 361.4,235.8 361.8,235.2 362.2,234.3 362.6,234.2 363.0,233.7 363.4,234.1 363.8,232.0 364.2,233.4 364.6,234.3 365.0,233.9 365.4,235.1 365.8,236.8 366.2,236.3 366.6,235.2 367.0,236.3 367.4,236.5 367.8,236.8 368.2,236.9 368.6,237.4 369.0,237.3 369.4,237.8 369.8,238.4 370.2,238.2 370.6,238.3 371.0,237.2 371.4,236.3 371.8,237.2 372.2,237.7 372.6,237.9 373.0,237.6 373.4,237.4 373.8,238.5 374.2,237.5 374.6,238.4 375.0,237.7 375.4,237.3 375.8,238.7 376.2,237.0 376.6,237.6 377.0,238.1 377.4,237.5 377.8,238.2 378.2,237.7 378.6,237.6 379.0,238.6 379.4,237.9 379.8,237.7 380.2,237.3 380.6,237.3 381.0,238.1 381.4,237.9 381.8,237.7 382.2,237.5 382.6,238.4 383.0,237.4 383.4,238.4 383.8,238.6 384.2,238.6 384.6,239.3 385.0,238.9 385.4,238.9 385.8,240.1 386.2,239.3 386.6,239.6 387.0,239.2 387.4,239.3 387.8,239.0 388.2,239.1 388.6,239.6 389.0,238.2 389.4,238.5 389.8,238.1 390.2,236.8 390.6,237.7 391.0,238.2 391.4,238.5 391.8,238.0 392.2,238.5 392.6,238.7 393.0,238.0 393.4,238.9 393.8,239.3 394.2,239.2 394.6,238.9 395.0,240.0 395.4,239.2 395.8,239.1 396.2,239.3 396.6,238.9 397.0,239.2 397.4,239.3 397.8,239.7 398.2,239.5 398.6,239.0 399.0,239.3 399.4,240.1 399.8,239.8 400.2,241.2 400.6,239.3 401.0,239.3 401.4,240.3 401.8,240.5 402.2,240.0 402.6,239.6 403.0,239.8 403.4,240.4 403.8,240.1 404.2,239.4 404.6,239.6 405.0,240.0 405.4,240.3 405.8,238.4 406.2,239.9 406.6,240.1 407.0,240.4 407.4,240.2 407.8,240.5 408.2,240.3 408.6,240.3 409.0,239.9 409.4,240.9 409.8,239.8 410.2,240.1 410.6,240.6 411.0,240.1 411.4,238.8 411.8,239.9 412.2,239.6 412.6,239.9 413.0,240.8 413.4,240.3 413.8,239.8 414.2,240.1 414.6,239.8 415.0,239.6 415.4,239.4 415.8,239.3 416.2,239.1 416.6,239.1 417.0,239.6 417.4,239.3 417.8,239.2 418.2,240.4 418.6,239.7 419.0,239.4 419.4,239.4 419.8,239.3 420.2,239.3 420.6,239.2 421.0,239.0 421.4,239.7 421.8,239.1 422.2,239.9 422.6,238.8 423.0,239.1 423.4,240.1 423.8,239.6 424.2,239.5 424.6,240.1 425.0,239.1 425.4,239.6 425.8,238.6 426.2,239.6 426.6,239.5 427.0,239.9 427.4,240.2 427.8,239.7 428.2,240.9 428.6,239.9 429.0,238.8 429.4,238.7 429.8,240.6 430.2,239.7 430.6,239.3 431.0,239.3 431.4,239.4 431.8,240.6 432.2,239.7 432.6,240.6 433.0,239.5 433.4,238.4 433.8,239.7 434.2,239.0 434.6,239.2 435.0,240.1" stroke="#c55a11"/>
<path d="M37.8,274.6 38.2,275.1 38.6,275.5 39.0,276.0 39.4,276.0 39.8,275.9 40.2,276.2 40.6,276.6 41.0,276.7 41.4,276.3 41.8,276.2 42.2,274.3 42.6,275.6 43.0,276.3 43.4,276.7 43.8,276.1 44.2,278.0 44.6,277.7 45.0,277.5 45.4,278.0 45.8,277.5 46.2,277.2 46.6,277.5 47.0,276.8 47.4,276.3 47.8,276.6 48.2,276.6 48.6,275.7 49.0,276.4 49.4,275.3 49.8,276.5 50.2,275.9 50.6,275.0 51.0,275.8 51.4,276.5 51.8,276.2 52.2,275.9 52.6,276.2 53.0,277.2 53.4,275.7 53.8,276.5 54.2,276.4 54.6,276.3 55.0,276.4 55.4,276.9 55.8,277.8 56.2,277.9 56.6,277.5 57.0,279.2 57.4,277.8 57.8,278.4 58.2,278.2 58.6,278.6 59.0,278.2 59.4,278.5 59.8,278.1 60.2,279.0 60.6,278.8 61.0,279.6 61.4,278.6 61.8,279.5 62.2,279.4 62.6,278.7 63.0,278.3 63.4,278.9 63.8,277.6 64.2,277.5 64.6,278.6 65.0,277.5 65.4,279.4 65.8,278.4 66.2,278.5 66.6,278.7 67.0,278.7 67.4,278.3 67.8,278.0 68.2,278.0 68.6,278.6 69.0,278.8 69.4,279.3 69.8,279.2 70.2,278.7 70.6,278.0 71.0,278.8 71.4,278.5 71.8,278.0 72.2,278.0 72.6,277.7 73.0,277.2 73.4,277.8 73.8,277.6 74.2,276.8 74.6,277.4 75.0,277.6 75.4,278.2 75.8,277.7 76.2,277.6 76.6,277.4 77.0,277.7 77.4,277.7 77.8,278.1 78.2,277.8 78.6,277.5 79.0,277.5 79.4,277.5 79.8,277.6 80.2,277.9 80.6,275.7 81.0,276.8 81.4,276.8 81.8,277.2 82.2,275.6 82.6,275.6 83.0,275.5 83.4,274.6 83.8,273.0 84.2,272.9 84.6,271.7 85.0,271.2 85.4,270.2 85.8,271.1 86.2,270.4 86.6,270.0 87.0,270.1 87.4,270.1 87.8,271.1 88.2,271.8 88.6,270.9 89.0,271.1 89.4,270.3 89.8,270.6 90.2,271.2 90.6,269.2 91.0,269.9 91.4,269.7 91.8,268.4 92.2,268.2 92.6,268.1 93.0,268.3 93.4,266.8 93.8,266.5 94.2,266.1 94.6,264.8 95.0,264.2 95.4,263.2 95.8,263.3 96.2,262.0 96.6,262.1 97.0,260.5 97.4,260.0 97.8,260.2 98.2,259.8 98.6,257.9 99.0,258.2 99.4,257.1 99.8,257.0 100.2,256.9 100.6,255.6 101.0,255.6 101.4,255.3 101.8,255.9 102.2,255.0 102.6,254.4 103.0,254.3 103.4,254.1 103.8,254.3 104.2,254.2 104.6,254.6 105.0,253.9 105.4,253.2 105.8,253.0 106.2,252.3 106.6,252.1 107.0,251.7 107.4,251.3 107.8,250.1 108.2,249.7 108.6,250.1 109.0,250.7 109.4,249.3 109.8,250.3 110.2,250.9 110.6,251.0 111.0,250.9 111.4,252.6 111.8,252.6 112.2,252.0 112.6,252.9 113.0,253.0 113.4,252.3 113.8,254.5 114.2,253.1 114.6,254.1 115.0,254.5 115.4,255.8 115.8,255.6 116.2,256.6 116.6,257.7 117.0,258.0 117.4,258.3 117.8,259.7 118.2,259.0 118.6,260.7 119.0,261.0 119.4,262.2 119.8,263.2 120.2,263.8 120.6,264.8 121.0,265.1 121.4,265.9 121.8,267.0 122.2,267.1 122.6,267.5 123.0,268.6 123.4,268.9 123.8,269.8 124.2,270.3 124.6,271.2 125.0,271.3 125.4,271.7 125.8,271.7 126.2,271.4 126.6,273.2 127.0,273.2 127.4,273.5 127.8,273.8 128.2,275.0 128.6,274.3 129.0,275.4 129.4,275.4 129.8,275.4 130.2,275.6 130.6,277.0 131.0,277.5 131.4,278.4 131.8,279.2 132.2,278.9 132.6,279.1 133.0,279.1 133.4,279.7 133.8,280.1 134.2,279.9 134.6,281.7 135.0,280.3 135.4,281.7 135.8,282.2 136.2,282.8 136.6,282.6 137.0,283.5 137.4,283.9 137.8,283.9 138.2,284.4 138.6,284.9 139.0,284.9 139.4,285.7 139.8,285.3 140.2,286.2 140.6,286.1 141.0,287.0 141.4,286.8 141.8,287.1 142.2,286.6 142.6,286.9 143.0,287.1 143.4,287.7 143.8,288.4 144.2,289.0 144.6,288.4 145.0,289.1 145.4,288.4 145.8,288.2 146.2,288.6 146.6,288.4 147.0,288.0 147.4,287.7 147.8,288.7 148.2,288.2 148.6,287.9 149.0,289.7 149.4,288.9 149.8,288.3 150.2,289.1 150.6,288.7 151.0,289.3 151.4,287.9 151.8,288.2 152.2,288.5 152.6,288.4 153.0,289.4 153.4,287.9 153.8,288.9 154.2,289.6 154.6,289.9 155.0,290.2 155.4,290.2 155.8,291.3 156.2,290.6 156.6,291.1 157.0,291.6 157.4,291.0 157.8,290.7 158.2,290.9 158.6,291.0 159.0,290.6 159.4,290.8 159.8,290.4 160.2,291.6 160.6,291.3 161.0,293.0 161.4,292.7 161.8,292.7 162.2,292.3 162.6,292.1 163.0,292.9 163.4,292.5 163.8,292.6 164.2,292.1 164.6,293.0 165.0,291.9 165.4,292.5 165.8,291.1 166.2,291.4 166.6,292.0 167.0,291.6 167.4,291.6 167.8,292.1 168.2,292.0 168.6,293.1 169.0,291.7 169.4,293.0 169.8,293.2 170.2,292.5 170.6,293.0 171.0,293.6 171.4,292.6 171.8,293.1 172.2,293.8 172.6,293.3 173.0,293.6 173.4,293.1 173.8,294.0 174.2,294.2 174.6,293.6 175.0,292.6 175.4,293.9 175.8,293.6 176.2,293.4 176.6,294.3 177.0,293.2 177.4,294.8 177.8,293.5 178.2,294.5 178.6,293.5 179.0,292.4 179.4,293.2 179.8,293.3 180.2,293.6 180.6,294.0 181.0,293.1 181.4,294.1 181.8,294.6 182.2,293.8 182.6,293.7 183.0,293.3 183.4,294.1 183.8,294.5 184.2,293.7 184.6,293.6 185.0,294.9 185.4,293.5 185.8,294.5 186.2,294.1 186.6,293.1 187.0,293.8 187.4,293.5 187.8,294.0 188.2,294.2 188.6,293.2 189.0,293.6 189.4,293.6 189.8,292.8 190.2,292.7 190.6,293.9 191.0,293.2 191.4,293.2 191.8,293.5 192.2,293.6 192.6,293.3 193.0,293.9 193.4,294.2 193.8,293.4 194.2,292.8 194.6,293.3 195.0,292.7 195.4,293.3 195.8,293.9 196.2,294.5 196.6,293.6 197.0,293.4 197.4,294.0 197.8,292.5 198.2,293.2 198.6,294.4 199.0,294.1 199.4,293.0 199.8,292.7 200.2,293.9 200.6,293.7 201.0,293.4 201.4,293.9 201.8,293.4 202.2,292.9 202.6,294.2 203.0,293.6 203.4,293.2 203.8,293.1 204.2,294.2 204.6,293.8 205.0,294.7 205.4,294.4 205.8,295.0 206.2,294.5 206.6,294.5 207.0,293.9 207.4,294.4 207.8,295.2 208.2,296.3 208.6,294.5 209.0,294.8 209.4,295.3 209.8,295.3 210.2,294.5 210.6,294.7 211.0,294.0 211.4,294.5 211.8,294.7 212.2,295.0 212.6,293.8 213.0,294.2 213.4,294.7 213.8,295.0 214.2,294.7 214.6,294.3 215.0,294.8 215.4,295.4 215.8,294.3 216.2,293.9 216.6,294.7 217.0,294.8 217.4,295.1 217.8,294.5 218.2,294.1 218.6,294.2 219.0,294.0 219.4,294.2 219.8,294.5 220.2,294.7 220.6,295.9 221.0,295.0 221.4,295.6 221.8,295.3 222.2,296.1 222.6,295.2 223.0,294.8 223.4,295.0 223.8,294.4 224.2,294.0 224.6,295.0 225.0,294.4 225.4,295.0 225.8,295.0 226.2,294.7 226.6,294.5 227.0,294.0 227.4,294.8 227.8,294.6 228.2,294.6 228.6,294.2 229.0,293.9 229.4,293.6 229.8,294.5 230.2,294.5 230.6,293.7 231.0,293.9 231.4,294.2 231.8,293.1 232.2,293.3 232.6,292.9 233.0,294.0 233.4,293.4 233.8,293.6 234.2,292.9 234.6,293.8 235.0,294.0 235.4,293.6 235.8,293.3 236.2,293.9 236.6,292.5 237.0,293.1 237.4,293.2 237.8,292.8 238.2,292.5 238.6,292.8 239.0,292.6 239.4,292.4 239.8,292.4 240.2,292.5 240.6,291.5 241.0,291.8 241.4,292.3 241.8,292.3 242.2,292.6 242.6,291.8 243.0,292.4 243.4,292.4 243.8,292.0 244.2,292.4 244.6,292.6 245.0,292.8 245.4,291.3 245.8,292.0 246.2,291.7 246.6,291.6 247.0,292.1 247.4,292.1 247.8,291.3 248.2,291.6 248.6,291.8 249.0,291.2 249.4,291.8 249.8,291.3 250.2,291.2 250.6,291.3 251.0,292.3 251.4,291.6 251.8,291.2 252.2,292.3 252.6,291.3 253.0,291.1 253.4,290.7 253.8,291.4 254.2,290.8 254.6,290.8 255.0,291.0 255.4,290.9 255.8,290.7 256.2,290.3 256.6,291.0 257.0,291.0 257.4,291.5 257.8,290.1 258.2,290.1 258.6,289.7 259.0,291.1 259.4,289.6 259.8,290.2 260.2,290.5 260.6,289.6 261.0,289.8 261.4,288.7 261.8,289.1 262.2,288.8 262.6,289.6 263.0,289.6 263.4,289.5 263.8,290.2 264.2,289.7 264.6,289.3 265.0,289.1 265.4,288.6 265.8,289.3 266.2,290.4 266.6,289.0 267.0,289.7 267.4,289.6 267.8,290.2 268.2,290.2 268.6,289.8 269.0,288.9 269.4,289.6 269.8,290.2 270.2,289.4 270.6,289.9 271.0,289.3 271.4,288.5 271.8,289.4 272.2,289.5 272.6,289.2 273.0,289.5 273.4,289.7 273.8,289.5 274.2,290.1 274.6,290.1 275.0,289.3 275.4,290.1 275.8,289.9 276.2,289.8 276.6,290.2 277.0,290.1 277.4,290.7 277.8,290.6 278.2,290.4 278.6,289.6 279.0,290.3 279.4,291.2 279.8,290.4 280.2,290.1 280.6,290.8 281.0,291.0 281.4,291.0 281.8,290.9 282.2,290.3 282.6,290.3 283.0,290.2 283.4,290.2 283.8,289.2 284.2,290.1 284.6,289.4 285.0,283.4 285.4,269.4 285.8,259.4 286.2,252.8 286.6,252.3 287.0,252.9 287.4,256.3 287.8,262.1 288.2,276.1 288.6,290.9 289.0,291.7 289.4,292.7 289.8,292.2 290.2,294.0 290.6,294.5 291.0,292.7 291.4,293.2 291.8,292.8 292.2,293.3 292.6,293.0 293.0,292.9 293.4,293.3 293.8,293.4 294.2,293.1 294.6,292.8 295.0,292.3 295.4,292.1 295.8,292.5 296.2,292.2 296.6,292.0 297.0,291.2 297.4,291.9 297.8,293.0 298.2,292.3 298.6,291.3 299.0,292.5 299.4,292.0 299.8,290.8 300.2,292.3 300.6,292.2 301.0,292.0 301.4,292.2 301.8,291.9 302.2,291.7 302.6,290.3 303.0,290.3 303.4,291.2 303.8,291.3 304.2,289.8 304.6,289.2 305.0,288.9 305.4,287.6 305.8,288.8 306.2,290.3 306.6,291.4 307.0,292.3 307.4,290.9 307.8,292.2 308.2,291.7 308.6,292.4 309.0,292.0 309.4,291.8 309.8,291.9 310.2,291.7 310.6,292.0 311.0,291.9 311.4,291.5 311.8,292.0 312.2,291.2 312.6,292.2 313.0,291.7 313.4,291.2 313.8,291.6 314.2,291.4 314.6,291.4 315.0,291.7 315.4,291.6 315.8,291.0 316.2,291.2 316.6,290.3 317.0,291.2 317.4,291.6 317.8,291.4 318.2,291.6 318.6,291.4 319.0,291.2 319.4,291.8 319.8,291.3 320.2,291.4 320.6,292.3 321.0,291.3 321.4,292.2 321.8,290.6 322.2,291.2 322.6,290.4 323.0,290.8 323.4,290.4 323.8,291.1 324.2,290.9 324.6,290.8 325.0,291.5 325.4,291.8 325.8,290.8 326.2,291.6 326.6,291.1 327.0,291.4 327.4,292.3 327.8,290.4 328.2,291.0 328.6,290.6 329.0,291.1 329.4,291.4 329.8,293.2 330.2,291.9 330.6,292.8 331.0,293.1 331.4,292.5 331.8,292.9 332.2,293.1 332.6,292.4 333.0,292.4 333.4,292.2 333.8,291.1 334.2,291.1 334.6,292.0 335.0,292.2 335.4,291.5 335.8,291.9 336.2,291.9 336.6,292.1 337.0,292.9 337.4,292.4 337.8,292.5 338.2,291.8 338.6,291.7 339.0,292.8 339.4,291.8 339.8,292.5 340.2,292.0 340.6,292.2 341.0,293.2 341.4,292.7 341.8,292.4 342.2,292.3 342.6,292.9 343.0,294.3 343.4,292.5 343.8,293.3 344.2,293.4 344.6,294.1 345.0,293.9 345.4,292.8 345.8,294.6 346.2,293.4 346.6,293.9 347.0,293.3 347.4,293.8 347.8,294.3 348.2,295.2 348.6,295.3 349.0,294.9 349.4,295.5 349.8,295.3 350.2,295.2 350.6,295.0 351.0,295.3 351.4,294.7 351.8,294.6 352.2,294.7 352.6,294.5 353.0,294.2 353.4,295.5 353.8,294.6 354.2,295.1 354.6,295.1 355.0,296.0 355.4,294.6 355.8,296.6 356.2,295.6 356.6,295.4 357.0,296.0 357.4,297.0 357.8,296.2 358.2,295.7 358.6,296.1 359.0,297.0 359.4,295.8 359.8,296.4 360.2,296.5 360.6,297.8 361.0,296.4 361.4,297.5 361.8,296.4 362.2,296.2 362.6,297.1 363.0,297.0 363.4,295.9 363.8,297.2 364.2,297.2 364.6,296.9 365.0,297.6 365.4,298.1 365.8,297.8 366.2,297.3 366.6,297.3 367.0,297.1 367.4,296.7 367.8,297.1 368.2,295.9 368.6,296.5 369.0,296.8 369.4,296.4 369.8,297.1 370.2,297.7 370.6,297.5 371.0,296.5 371.4,298.0 371.8,297.4 372.2,297.4 372.6,297.7 373.0,298.1 373.4,298.8 373.8,298.4 374.2,297.9 374.6,298.2 375.0,298.4 375.4,298.7 375.8,298.9 376.2,297.4 376.6,297.7 377.0,297.9 377.4,297.6 377.8,298.0 378.2,298.1 378.6,298.0 379.0,298.5 379.4,299.6 379.8,299.1 380.2,299.0 380.6,298.5 381.0,298.6 381.4,299.0 381.8,298.7 382.2,298.7 382.6,299.2 383.0,299.9 383.4,299.4 383.8,300.2 384.2,299.4 384.6,298.8 385.0,299.3 385.4,299.6 385.8,300.0 386.2,300.1 386.6,299.4 387.0,299.8 387.4,300.9 387.8,300.6 388.2,300.5 388.6,300.6 389.0,300.9 389.4,299.6 389.8,300.6 390.2,299.8 390.6,300.5 391.0,300.6 391.4,299.4 391.8,300.4 392.2,300.2 392.6,299.8 393.0,299.9 393.4,299.4 393.8,299.7 394.2,300.0 394.6,299.8 395.0,299.4 395.4,299.5 395.8,301.1 396.2,300.4 396.6,300.0 397.0,299.6 397.4,300.0 397.8,300.1 398.2,299.4 398.6,300.4 399.0,300.0 399.4,300.1 399.8,299.5 400.2,299.8 400.6,299.8 401.0,300.3 401.4,300.3 401.8,300.4 402.2,300.2 402.6,300.4 403.0,300.9 403.4,300.5 403.8,299.8 404.2,300.0 404.6,300.4 405.0,299.8 405.4,300.1 405.8,299.6 406.2,299.9 406.6,300.3 407.0,299.7 407.4,299.8 407.8,300.3 408.2,300.2 408.6,300.4 409.0,300.1 409.4,299.7 409.8,299.6 410.2,299.9 410.6,299.0 411.0,299.5 411.4,298.5 411.8,299.1 412.2,298.8 412.6,299.2 413.0,300.4 413.4,299.8 413.8,299.7 414.2,300.1 414.6,300.1 415.0,301.0 415.4,300.1 415.8,300.6 416.2,299.9 416.6,300.5 417.0,300.4 417.4,300.5 417.8,300.4 418.2,300.5 418.6,300.9 419.0,300.3 419.4,300.2 419.8,299.9 420.2,301.2 420.6,300.4 421.0,300.0 421.4,300.1 421.8,299.5 422.2,299.6 422.6,299.9 423.0,299.7 423.4,299.2 423.8,299.4 424.2,299.9 424.6,299.8 425.0,298.6 425.4,299.7 425.8,300.2 426.2,299.7 426.6,300.1 427.0,299.7 427.4,300.9 427.8,300.3 428.2,299.9 428.6,300.6 429.0,301.9 429.4,300.6 429.8,300.1 430.2,300.7 430.6,300.5 431.0,301.4 431.4,300.1 431.8,299.7 432.2,300.2 432.6,300.5 433.0,300.6 433.4,301.0 433.8,299.9 434.2,300.0 434.6,300.5 435.0,300.7" stroke="#0000b4"/>
</g>
<g stroke="#000" fill="none">
<line x1="109.5" y1="15" x2="109.5" y2="279" stroke-width="1.6" stroke-dasharray="1.6 1.55"/>
<line x1="264.5" y1="75" x2="262.7" y2="306" stroke-width="1.1" stroke-dasharray="1.1 1.1"/>
<line x1="332.4" y1="78.5" x2="333.4" y2="301" stroke-width="1.6" stroke-dasharray="1.6 1.6"/>
</g>
<g fill="none" stroke="#333" stroke-width="1.3">
<path d="M37.4 0.9V314.7H435.5"/><path d="M435.5 0V315.3" stroke="#222" stroke-width="1.2"/><path d="M36.8 0.7H436.1" stroke="#444" stroke-width="1.3"/>
<path d="M37.4 314.7v6M117.1 314.7v6M196.8 314.7v6M276.6 314.7v6M356.2 314.7v6M435.5 314.7v6M77.2 314.7v3M157 314.7v3M236.7 314.7v3M316.4 314.7v3M396 314.7v3"/>
</g>
<g class="b" font-size="17" text-anchor="middle">
<text x="37.4" y="338.6">20</text><text x="117.1" y="338.6">30</text><text x="196.8" y="338.6">40</text><text x="276.6" y="338.6">50</text><text x="356.2" y="338.6">60</text><text x="435.8" y="338.6">70</text>
</g>
<text class="b" font-size="20.2" x="189.4" y="364.6">Angle</text><g class="s" stroke="#000" stroke-width="0.3"><text font-size="17" y="364.5"><tspan x="252.2">(</tspan><tspan x="267.6" font-size="18.5">θ</tspan><tspan x="278.1">)</tspan></text><text font-size="17" transform="translate(256.9,364.5) scale(1.2,1)">2</text></g>
<text class="b" font-size="20.5" transform="translate(15.3,224.4) rotate(-90)">Intensity (a.u)</text>
<rect x="357.2" y="4.5" width="74.7" height="75.1" fill="#fff" stroke="#000" stroke-width="1.5"/>
<g stroke-width="3.5" stroke-linecap="round">
<line x1="359.2" y1="14.2" x2="392.2" y2="14.2" stroke="#b40000"/>
<line x1="359.2" y1="32.5" x2="392.2" y2="32.5" stroke="#00dc00"/>
<line x1="359.2" y1="50.8" x2="392.2" y2="50.8" stroke="#c55a11"/>
<line x1="359.2" y1="69.1" x2="392.2" y2="69.1" stroke="#0000b4"/>
</g>
<g class="b" font-size="14" stroke="#000" stroke-width="0.2">
<text x="396.5" y="20.1">S 80</text><text x="396.5" y="38.3">S 60</text><text x="396.8" y="56.4">W 80</text><text x="396.8" y="74.6">W 60</text>
</g>
<g class="b" font-size="15.6" style="font-kerning:none" stroke="#000" stroke-width="0.3" mask="url(#m1)">
<text x="93.4" y="14.1">(111)</text>
<text x="244.6" y="70.9">(220)</text>
<text x="280.8" y="68.0">(Si)</text>
<text x="315.8" y="70.7">(311)</text>
<text x="92.1" y="112.1">(111)</text>
<text x="273.6" y="115.7">(Si)</text>
<text x="241.8" y="144.1">(220)</text>
<text x="321.2" y="151.6">(311)</text>
<text x="92.1" y="173.4">(111)</text>
<text x="242" y="220.1">(220)</text>
<text x="278.2" y="215.7">(Si)</text>
<text x="322.6" y="225.7">(311)</text>
<text x="91.4" y="243.5">(111)</text>
<text x="277.5" y="247.7">(Si)</text>
<text x="243.2" y="283.4">(220)</text>
<text x="323.2" y="285.3">(311)</text>
</g>
</svg>
</body></html>
